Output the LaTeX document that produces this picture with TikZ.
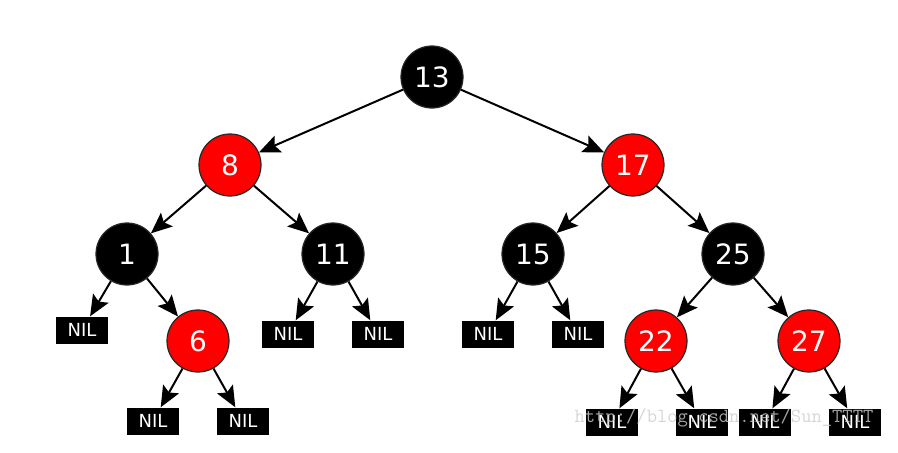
\documentclass[tikz,border=0pt]{standalone}
\usepackage{fontspec}
\setmainfont{DejaVu Sans}
\usetikzlibrary{arrows.meta}
\tikzset{font=\fontsize{28}{28}\selectfont}
\tikzset{rbnode/.style={circle, draw=black!85, line width=1.2pt, minimum size=62pt, inner sep=0pt, text=white}}
\tikzset{blacknode/.style={rbnode, fill=black}}
\tikzset{rednode/.style={rbnode, fill=red}}
\tikzset{nil/.style={fill=black, text=white, minimum width=52pt, minimum height=27pt, inner sep=0pt, font=\fontsize{18}{18}\selectfont}}
\tikzset{edge/.style={-{Stealth[length=21pt,width=18pt,inset=4pt]}, line width=2pt}}

\begin{document}
\begin{tikzpicture}[x=1pt,y=-1pt]
  \useasboundingbox (0,0) rectangle (898,453);

  \node[blacknode] (n13) at (432,77) {13};
  \node[rednode] (n8) at (230,165) {8};
  \node[rednode] (n17) at (633,165) {17};
  \node[blacknode] (n1) at (127,254) {1};
  \node[blacknode] (n11) at (333,254) {11};
  \node[blacknode] (n15) at (533,254) {15};
  \node[blacknode] (n25) at (733,254) {25};
  \node[rednode] (n6) at (198,341) {6};
  \node[rednode] (n22) at (656,341) {22};
  \node[rednode] (n27) at (809,341) {27};

  \node[nil] (nil1) at (82,330) {NIL};
  \node[nil] (nil11a) at (288,334) {NIL};
  \node[nil] (nil11b) at (378,334) {NIL};
  \node[nil] (nil15a) at (488,334) {NIL};
  \node[nil] (nil15b) at (578,334) {NIL};
  \node[nil] (nil6a) at (153,421) {NIL};
  \node[nil] (nil6b) at (243,421) {NIL};
  \node[nil] (nil22a) at (612,422) {NIL};
  \node[nil] (nil22b) at (702,422) {NIL};
  \node[nil] (nil27a) at (765,422) {NIL};
  \node[nil] (nil27b) at (855,422) {NIL};

  \foreach \a/\b in {n13/n8, n13/n17, n8/n1, n8/n11, n17/n15, n17/n25,
                     n1/nil1, n1/n6, n11/nil11a, n11/nil11b, n15/nil15a, n15/nil15b,
                     n25/n22, n25/n27, n6/nil6a, n6/nil6b,
                     n22/nil22a, n22/nil22b, n27/nil27a, n27/nil27b}{
    \draw[edge] (\a) -- (\b);
  };

  \node[text=gray!40, opacity=0.8, font=\ttfamily\fontsize{20}{20}\selectfont] (mark) at (724,418) {http://blog.csdn.net/Sun\_TTTT};
\end{tikzpicture}
\end{document}
